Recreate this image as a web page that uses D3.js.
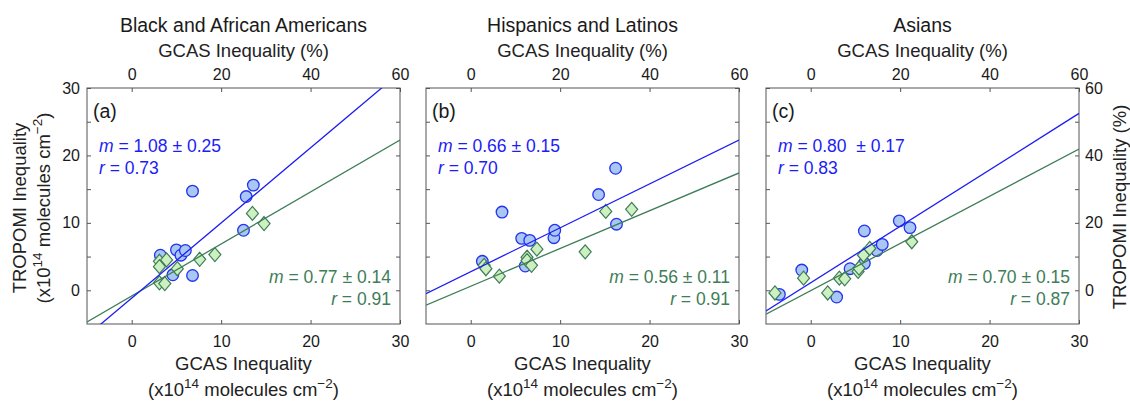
<!DOCTYPE html>
<html>
<head>
<meta charset="utf-8">
<script src="https://cdn.jsdelivr.net/npm/d3@7"></script>
<style>
  body { margin: 0; background: #fff; }
  svg { font-family: "Liberation Sans", Arial, Helvetica, sans-serif; }
</style>
</head>
<body>
<svg id="chart"></svg>
<script>
// data
const groupTitles = ["Black and African Americans", "Hispanics and Latinos", "Asians"];
const panelTags = ["(a)", "(b)", "(c)"];

// blue circles: [GCAS, TROPOMI] (x10^14 molecules cm^-2)
const blackCircles = [[3.2, 5.2], [5.0, 6.0], [5.5, 5.2], [6.0, 5.9], [4.6, 2.3], [6.8, 2.2], [6.8, 14.7], [12.5, 8.9], [12.8, 13.9], [13.6, 15.6]];
const hispanicCircles = [[1.3, 4.3], [3.5, 11.6], [5.7, 7.7], [6.6, 7.4], [6.1, 3.6], [9.3, 7.8], [9.4, 8.9], [14.3, 14.2], [16.2, 18.1], [16.3, 9.8]];
const asianCircles = [[-3.5, -0.6], [-1.0, 3.0], [2.9, -1.0], [4.4, 3.2], [6.0, 4.0], [6.0, 8.8], [7.4, 5.9], [8.0, 6.8], [9.9, 10.3], [11.1, 9.3]];

// green diamonds
const blackDiamonds = [[3.1, 4.3], [3.9, 4.5], [3.1, 3.5], [5.1, 3.2], [3.1, 1.1], [3.7, 1.0], [7.6, 4.6], [9.3, 5.3], [13.5, 11.4], [14.8, 9.9]];
const hispanicDiamonds = [[1.5, 3.7], [1.7, 3.2], [3.2, 2.1], [6.3, 4.9], [6.3, 4.4], [6.8, 3.7], [7.4, 6.1], [12.8, 5.7], [15.1, 11.7], [18.0, 12.0]];
const asianDiamonds = [[-4.0, -0.4], [-0.8, 1.8], [1.9, -0.4], [3.2, 1.8], [3.8, 1.7], [5.3, 2.8], [5.4, 3.3], [5.9, 5.2], [6.6, 6.2], [11.3, 7.2]];

// fitted lines as drawn [blue, green]
const blueSlopes = [1.115, 0.651, 0.837];
const blueIntercepts = [-1.16, 2.76, 1.12];
const greenSlopes = [0.771, 0.56, 0.70];
const greenIntercepts = [-0.84, 0.6, -0.06];

const blueM = ["1.08 \u00b1 0.25", "0.66 \u00b1 0.15", "0.80 \u00a0\u00b1 0.17"];
const blueR = ["0.73", "0.70", "0.83"];
const greenM = ["0.77 \u00b1 0.14", "0.56 \u00b1 0.11", "0.70 \u00b1 0.15"];
const greenR = ["0.91", "0.91", "0.87"];

// axis ticks
const bottomTicks = [0, 10, 20, 30];
const topTicks = [0, 20, 40, 60];
const leftTicks = [0, 5, 10, 15, 20, 25, 30];
const rightTicks = [0, 10, 20, 30, 40, 50, 60];

const circleSets = [blackCircles, hispanicCircles, asianCircles];
const diamondSets = [blackDiamonds, hispanicDiamonds, asianDiamonds];

//--------------------------------------------------------------------------------------
const width = 1130;
const height = 401;
const panelLeft = [87, 426, 766];
const panelW = 313;
const plotTop = 88;
const plotBottom = 324;

const blue = '#1c1cf5';
const green = '#3e7d58';
const ink = '#1a1a1a';
const tickLen = 4;
const labelSize = '18.5px';
const noteSize = '17.5px';

const svg = d3.select('#chart')
  .attr('width', width)
  .attr('height', height);

const y = d3.scaleLinear().domain([-5, 30]).range([plotBottom, plotTop]);
const yRight = d3.scaleLinear().domain([-10, 60]).range([plotBottom, plotTop]);

function styleAxis(g) {
  g.select('.domain').remove();
  g.selectAll('.tick line').attr('stroke', '#555');
  g.selectAll('.tick text').attr('fill', ink).attr('font-size', '16px');
  g.attr('font-family', null);
}

panelLeft.forEach((left, i) => {
  const x = d3.scaleLinear().domain([-5, 30]).range([left, left + panelW]);
  const xTop = d3.scaleLinear().domain([-10, 60]).range([left, left + panelW]);
  const cx = left + panelW / 2;
  const g = svg.append('g');

  // titles
  g.append('text')
    .attr('x', cx).attr('y', 32)
    .attr('text-anchor', 'middle')
    .attr('font-size', '19.5px')
    .attr('fill', ink)
    .text(groupTitles[i]);

  g.append('text')
    .attr('x', cx).attr('y', 57)
    .attr('text-anchor', 'middle')
    .attr('font-size', labelSize)
    .attr('fill', '#222')
    .text('GCAS Inequality (%)');

  // axes
  g.append('g')
    .attr('transform', `translate(0,${plotBottom})`)
    .call(d3.axisBottom(x).tickValues(bottomTicks).tickSize(-tickLen).tickPadding(12).tickFormat(d3.format('d')))
    .call(styleAxis);

  g.append('g')
    .attr('transform', `translate(0,${plotTop})`)
    .call(d3.axisTop(xTop).tickValues(topTicks).tickSize(-tickLen).tickPadding(8).tickFormat(d3.format('d')))
    .call(styleAxis);

  g.append('g')
    .attr('transform', `translate(${left},0)`)
    .call(d3.axisLeft(y).tickValues(leftTicks).tickSize(-tickLen).tickPadding(7)
      .tickFormat(d => (i === 0 && d % 10 === 0) ? d : ''))
    .call(styleAxis);

  g.append('g')
    .attr('transform', `translate(${left + panelW},0)`)
    .call(d3.axisRight(yRight).tickValues(rightTicks).tickSize(-tickLen).tickPadding(6)
      .tickFormat(d => (i === 2 && d % 20 === 0) ? d : ''))
    .call(styleAxis);

  g.append('rect')
    .attr('x', left).attr('y', plotTop)
    .attr('width', panelW).attr('height', plotBottom - plotTop)
    .attr('fill', 'none')
    .attr('stroke', '#555')
    .attr('stroke-width', 1);

  // x label
  g.append('text')
    .attr('x', cx).attr('y', 370)
    .attr('text-anchor', 'middle')
    .attr('font-size', labelSize)
    .attr('fill', '#222')
    .text('GCAS Inequality');

  const unit = g.append('text')
    .attr('x', cx).attr('y', 396)
    .attr('text-anchor', 'middle')
    .attr('font-size', labelSize)
    .attr('fill', '#222');
  unit.append('tspan').text('(x10');
  unit.append('tspan').attr('dy', -8).attr('font-size', '13.5px').text('14');
  unit.append('tspan').attr('dy', 8).text(' molecules cm');
  unit.append('tspan').attr('dy', -8).attr('font-size', '13.5px').text('\u22122');
  unit.append('tspan').attr('dy', 8).text(')');

  // clip for the fit lines
  const clipId = 'clip' + i;
  svg.append('clipPath').attr('id', clipId)
    .append('rect')
    .attr('x', left).attr('y', plotTop)
    .attr('width', panelW).attr('height', plotBottom - plotTop);

  const plot = g.append('g');

  plot.selectAll('circle')
    .data(circleSets[i])
    .enter().append('circle')
    .attr('cx', d => x(d[0]))
    .attr('cy', d => y(d[1]))
    .attr('r', 5.8)
    .attr('fill', '#aac7f3')
    .attr('stroke', '#2233ee')
    .attr('stroke-width', 1.3);

  plot.selectAll('path.dia')
    .data(diamondSets[i])
    .enter().append('path')
    .attr('class', 'dia')
    .attr('d', d => {
      const px = x(d[0]), py = y(d[1]);
      return `M${px},${py - 7}L${px + 6},${py}L${px},${py + 7}L${px - 6},${py}Z`;
    })
    .attr('fill', '#ccf0c0')
    .attr('stroke', green)
    .attr('stroke-width', 1.2);

  const xs = x.domain();

  g.append('path')
    .attr('clip-path', `url(#${clipId})`)
    .attr('d', d3.line()(xs.map(v => [x(v), y(greenSlopes[i] * v + greenIntercepts[i])])))
    .attr('stroke', green)
    .attr('stroke-width', 1.3)
    .attr('fill', 'none');

  g.append('path')
    .attr('clip-path', `url(#${clipId})`)
    .attr('d', d3.line()(xs.map(v => [x(v), y(blueSlopes[i] * v + blueIntercepts[i])])))
    .attr('stroke', blue)
    .attr('stroke-width', 1.3)
    .attr('fill', 'none');

  // annotations
  g.append('text')
    .attr('x', left + 6).attr('y', 118)
    .attr('font-size', '19.5px')
    .attr('fill', ink)
    .text(panelTags[i]);

  const bm = g.append('text')
    .attr('x', left + 12).attr('y', 152)
    .attr('font-size', noteSize)
    .attr('fill', blue);
  bm.append('tspan').attr('font-style', 'italic').text('m');
  bm.append('tspan').text(' = ' + blueM[i]);

  const br = g.append('text')
    .attr('x', left + 12).attr('y', 174)
    .attr('font-size', noteSize)
    .attr('fill', blue);
  br.append('tspan').attr('font-style', 'italic').text('r');
  br.append('tspan').text(' = ' + blueR[i]);

  const gm = g.append('text')
    .attr('x', left + panelW - 9).attr('y', 283)
    .attr('text-anchor', 'end')
    .attr('font-size', noteSize)
    .attr('fill', green);
  gm.append('tspan').attr('font-style', 'italic').text('m');
  gm.append('tspan').text(' = ' + greenM[i]);

  const gr = g.append('text')
    .attr('x', left + panelW - 9).attr('y', 305)
    .attr('text-anchor', 'end')
    .attr('font-size', noteSize)
    .attr('fill', green);
  gr.append('tspan').attr('font-style', 'italic').text('r');
  gr.append('tspan').text(' = ' + greenR[i]);
});

// y labels
const yl = svg.append('g')
  .attr('transform', 'translate(26,208) rotate(-90)');
yl.append('text')
  .attr('text-anchor', 'middle')
  .attr('font-size', labelSize)
  .attr('fill', '#222')
  .text('TROPOMI Inequality');
const yl2 = yl.append('text')
  .attr('y', 24)
  .attr('text-anchor', 'middle')
  .attr('font-size', labelSize)
  .attr('fill', '#222');
yl2.append('tspan').text('(x10');
yl2.append('tspan').attr('dy', -8).attr('font-size', '13.5px').text('14');
yl2.append('tspan').attr('dy', 8).text(' molecules cm');
yl2.append('tspan').attr('dy', -8).attr('font-size', '13.5px').text('\u22122');
yl2.append('tspan').attr('dy', 8).text(')');

svg.append('text')
  .attr('transform', 'translate(1126,207) rotate(-90)')
  .attr('text-anchor', 'middle')
  .attr('font-size', labelSize)
  .attr('fill', '#222')
  .text('TROPOMI Inequality (%)');
</script>
</body>
</html>
